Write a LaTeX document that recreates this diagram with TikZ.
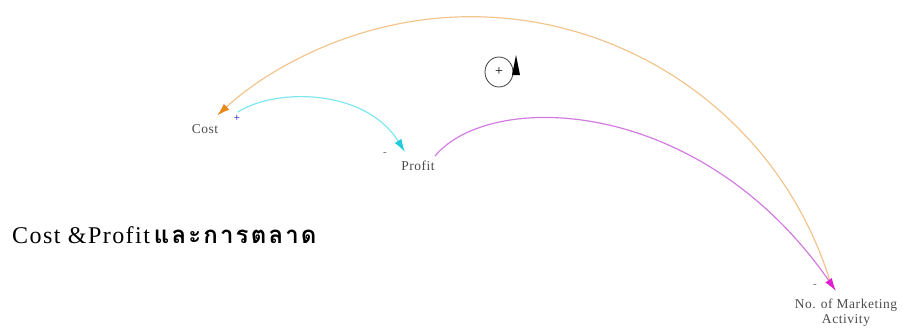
\documentclass[tikz,border=0pt]{standalone}
\usepackage{fontspec}
\setmainfont{Liberation Serif}
\newfontfamily\thaifont[Script=Thai]{Loma}
\usetikzlibrary{arrows.meta,shapes.geometric}
\definecolor{orl}{HTML}{F2C58E}
\definecolor{ord}{HTML}{E8891A}
\definecolor{cyl}{HTML}{7FE8EE}
\definecolor{cyd}{HTML}{22CCD8}
\definecolor{mgl}{HTML}{D27BE0}
\definecolor{mgd}{HTML}{E020D0}
\tikzset{
  lbl/.style={font=\fontsize{13.5}{15}\selectfont\addfontfeature{LetterSpace=4}, text=black!70, inner sep=0pt, align=center},
  link/.style={line width=1.2pt},
  pol/.style={font=\fontsize{11}{11}\selectfont, inner sep=0pt},
}
\begin{document}
\begin{tikzpicture}[x=1pt,y=-1pt]
\useasboundingbox (0,0) rectangle (902,332);
\node[lbl] (cost) at (205,129) {Cost};
\node[lbl] (profit) at (418,166) {Profit};
\node[lbl] (mkt) at (846,313) {No. of Marketing\\Activity};
\coordinate (c2) at (238,112);
\coordinate (p1) at (405,152);
\coordinate (p2) at (435,156);
\coordinate (m1) at (831.5,286);
\coordinate (m2) at (836,291);
% orange: marketing -> cost (circular arc)
\draw[link, draw=orl, -{Latex[length=13pt,width=8pt,color=ord]}] (m1) arc[start angle=-16.5, end angle=-132.5, radius=376];
% cyan: cost -> profit
\draw[link, draw=cyl, -{Latex[length=13pt,width=8pt,color=cyd]}] (c2) .. controls (275,88) and (365,88) .. (p1);
% magenta: profit -> marketing
\draw[link, draw=mgl, -{Latex[length=13pt,width=8pt,color=mgd]}] (p2) .. controls (490,90) and (700,95) .. (m2);
% polarities
\node[pol, text=blue!70!black] (pc) at (237,118) {+};
\node[pol, text=black!60] (pp) at (385,154) {-};
\node[pol, text=black!60] (pm) at (815,286) {-};
% loop symbol
\node[draw=black!75, ellipse, minimum width=28pt, minimum height=30pt, inner sep=0pt, line width=0.8pt, font=\fontsize{14}{14}\selectfont] (loop) at (499,72) {+};
\fill[black] (512,75) -- (516,55) -- (520,75) -- cycle;
% title
\node[anchor=base west, inner sep=0pt, font=\fontsize{24}{26}\selectfont] (title) at (12,243) {\addfontfeature{LetterSpace=6}Cost \&Profit\,{\thaifont\bfseries\addfontfeature{LetterSpace=9}และการตลาด}};
\end{tikzpicture}
\end{document}
